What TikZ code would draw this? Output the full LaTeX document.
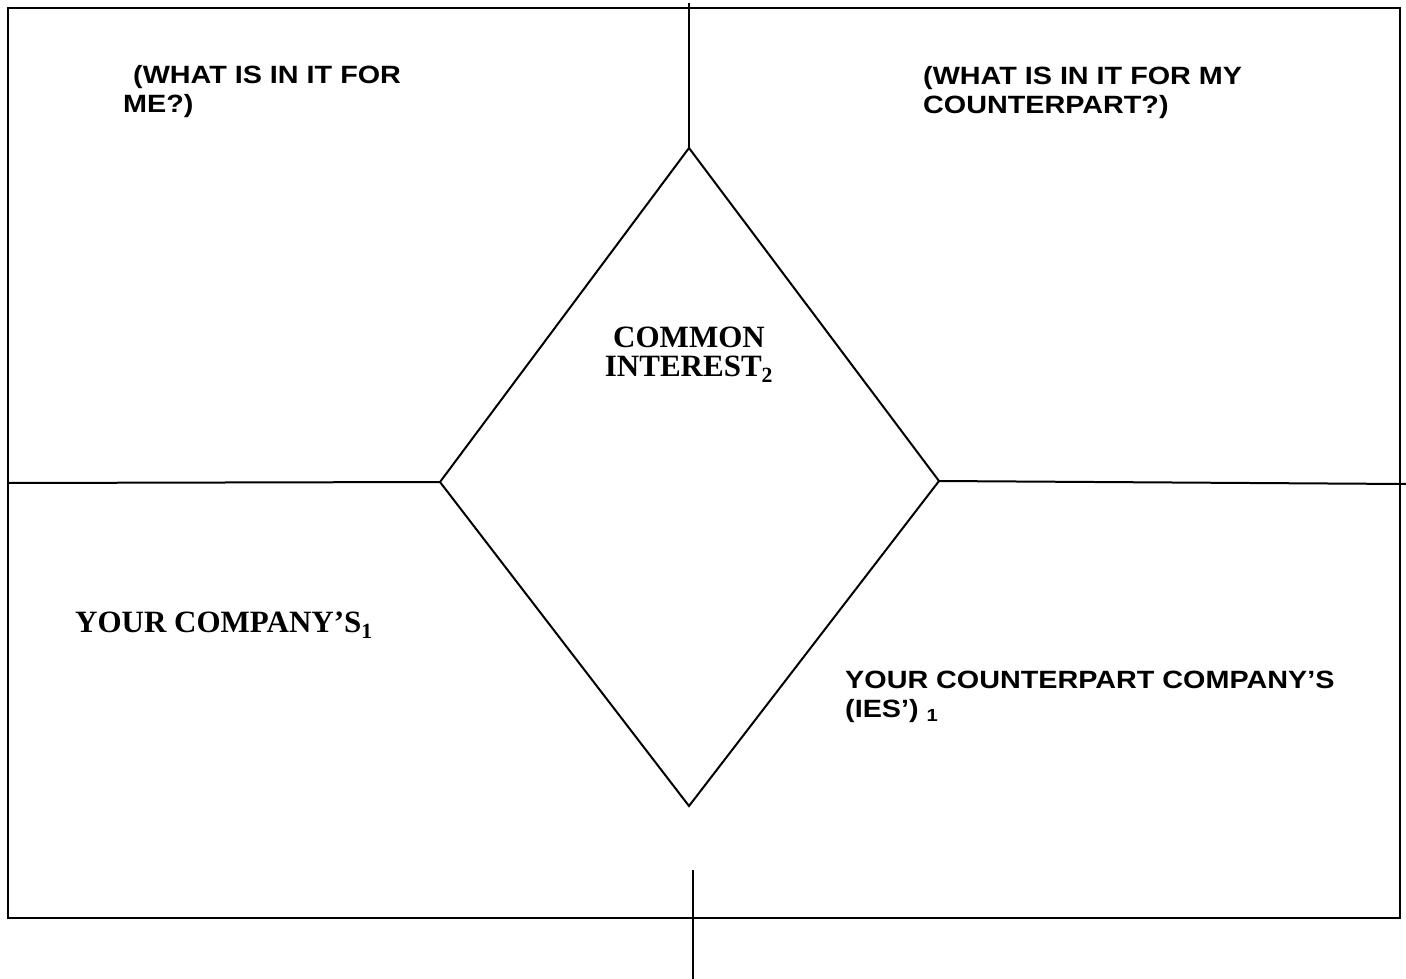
\documentclass[tikz,border=0pt]{standalone}
\usepackage{fontspec}
\setmainfont{Liberation Serif}
\newfontfamily\widesans[FakeStretch=1.15]{Liberation Sans}
\usetikzlibrary{positioning}
\tikzstyle{frame} = [draw,line width=2.4pt]
\tikzstyle{rule} = [draw,line width=2pt]
\tikzstyle{sanstext} = [inner sep=0pt,anchor=north west,align=left,font=\widesans\bfseries\fontsize{25}{29}\selectfont]
\tikzstyle{seriftext} = [inner sep=0pt,font=\bfseries\fontsize{31}{29}\selectfont]

\begin{document}
\begin{tikzpicture}[x=1pt,y=-1pt]
            \useasboundingbox (0,0) rectangle (1406,979);
            % outer frame
            \coordinate (nw) at (8,8);
            \coordinate (se) at (1400,918);
            \path[frame] (nw) rectangle (se);
            % diamond in the middle
            \coordinate (top) at (689,148);
            \coordinate (left) at (440,482);
            \coordinate (right) at (939,481);
            \coordinate (bottom) at (689,806);
            \path[rule] (top) -- (right) -- (bottom) -- (left) -- cycle;
            % dividing lines
            \coordinate (top-end) at (689,3);
            \coordinate (left-end) at (8,483);
            \coordinate (right-end) at (1406,484);
            \coordinate (low-start) at (693,870);
            \coordinate (low-end) at (693,979);
            \path[rule] (top-end) -- (top);
            \path[rule] (left-end) -- (left);
            \path[rule] (right) -- (right-end);
            \path[rule] (low-start) -- (low-end);
            % quadrant texts
            \node[sanstext] (me) at (123,65) {\hspace*{10pt}(WHAT IS IN IT FOR\\ME?)};
            \node[sanstext] (other) at (923,66) {(WHAT IS IN IT FOR MY\\COUNTERPART?)};
            \node[seriftext,align=center,anchor=north] (common) at (689,327) {COMMON\\INTEREST\textsubscript{2}};
            \node[seriftext,anchor=north west] (mine) at (75,612) {YOUR COMPANY’S\textsubscript{1}};
            \node[sanstext] (theirs) at (845,671) {YOUR COUNTERPART COMPANY’S\\(IES’) \textsubscript{1}};
        \end{tikzpicture}
\end{document}
